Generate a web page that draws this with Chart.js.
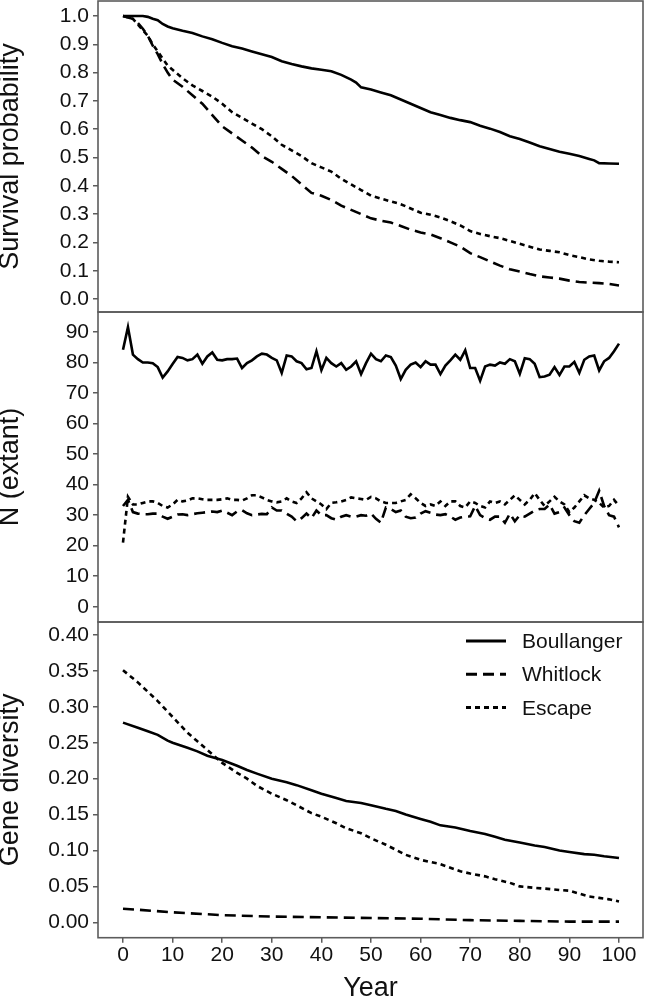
<!DOCTYPE html>
<html><head><meta charset="utf-8">
<script src="https://cdn.jsdelivr.net/npm/chart.js@4"></script>
<style>html,body{margin:0;padding:0;background:#fff}#wrap{position:relative;width:646px;height:999px}canvas{display:block}</style>
</head><body><div id="wrap"><canvas id="c" width="646" height="999"></canvas></div>
<script>
// ---------- DATA ----------
const seriesNames = ['Boullanger', 'Whitlock', 'Escape'];
const xTickValues = [0,10,20,30,40,50,60,70,80,90,100];
const survTickValues = [0,0.1,0.2,0.3,0.4,0.5,0.6,0.7,0.8,0.9,1.0];
const nTickValues = [0,10,20,30,40,50,60,70,80,90];
const geneTickValues = [0,0.05,0.10,0.15,0.20,0.25,0.30,0.35,0.40];

// Survival probability
const survYearsB = [0,2,4,5,6,7,8,9,10,12,14,16,18,20,22,24,26,28,30,32,34,36,38,40,42,44,46,47,48,50,52,54,56,58,60,62,64,66,68,70,72,74,76,78,80,82,84,86,88,90,92,94,95,96,98,100];
const survBoullanger = [1.0,1.0,1.0,0.997,0.99,0.985,0.972,0.963,0.957,0.948,0.94,0.928,0.918,0.905,0.893,0.885,0.875,0.865,0.855,0.84,0.83,0.822,0.815,0.81,0.805,0.792,0.775,0.765,0.748,0.74,0.73,0.72,0.705,0.69,0.675,0.66,0.65,0.64,0.632,0.625,0.612,0.602,0.59,0.575,0.565,0.553,0.54,0.53,0.52,0.513,0.505,0.495,0.49,0.48,0.479,0.478];
const survYearsWE = [0,1,2,3,4,5,6,7,8,9,10,12,14,16,18,20,22,24,26,28,30,32,34,36,38,40,42,44,46,48,50,52,54,56,58,60,62,64,66,68,70,72,74,76,78,80,82,84,86,88,90,92,94,96,98,100];
const survWhitlock = [1.0,0.995,0.99,0.975,0.955,0.93,0.895,0.865,0.83,0.8,0.775,0.75,0.72,0.69,0.65,0.61,0.585,0.56,0.535,0.505,0.485,0.46,0.435,0.405,0.375,0.365,0.35,0.33,0.315,0.3,0.285,0.277,0.27,0.258,0.245,0.235,0.228,0.215,0.2,0.185,0.162,0.148,0.133,0.118,0.105,0.097,0.088,0.08,0.076,0.072,0.065,0.06,0.058,0.056,0.053,0.048];
const survEscape = [1.0,0.995,0.99,0.97,0.95,0.93,0.9,0.875,0.85,0.825,0.81,0.78,0.755,0.735,0.715,0.69,0.66,0.64,0.62,0.6,0.575,0.545,0.525,0.505,0.48,0.465,0.45,0.425,0.405,0.385,0.365,0.355,0.345,0.335,0.32,0.305,0.298,0.288,0.275,0.26,0.24,0.23,0.222,0.215,0.205,0.195,0.185,0.175,0.17,0.165,0.155,0.148,0.14,0.135,0.132,0.13];

// N (extant), one value per year 0..100
const nYears = Array.from({length: 101}, (_, i) => i);
const nBoullanger = [84.2,91.6,82.6,81.1,80.0,80.0,79.8,78.5,75.1,77.1,
 79.5,81.8,81.5,80.7,81.1,82.6,79.6,82.0,83.3,80.9,
 80.7,81.1,81.1,81.3,78.2,79.8,80.7,82.0,82.9,82.6,
 81.5,80.7,76.6,82.3,82.0,80.4,79.8,77.8,78.2,83.7,
 77.5,81.5,79.8,78.7,79.8,77.6,78.7,80.4,76.2,79.8,
 82.9,81.1,80.4,82.3,81.8,79.0,74.6,77.6,79.3,80.0,
 78.5,80.4,79.3,79.3,76.2,79.0,80.7,82.6,80.9,84.0,
 78.2,78.2,74.0,78.7,79.3,79.0,80.0,79.6,81.1,80.4,
 76.3,81.4,81.1,79.6,75.2,75.4,76.0,78.5,75.9,78.7,
 78.7,80.2,76.6,80.9,82.0,82.3,77.4,80.4,81.5,83.7,86.2];
const nWhitlock = [33,35,31,30.5,30.3,30.3,30.5,30.5,29.5,28.8,
 29.5,30.2,30.3,30.0,30.3,30.6,30.8,31.0,31.2,31.0,
 31.5,30.8,30.0,31.2,31.6,30.6,30.0,30.2,30.4,30.3,
 32.5,31.5,31.5,30.5,29.5,28.0,29.0,30.5,29.0,31.5,
 30.0,30.0,29.0,28.5,29.5,30.0,29.5,29.5,30.0,29.8,
 30.5,28.8,27.5,32.5,32.0,31.0,31.5,29.5,29.0,29.2,
 30.5,31.3,30.8,30.2,30.0,30.3,29.5,28.5,29.2,29.5,
 29.6,33.0,30.0,29.0,28.5,29.5,29.5,27.5,30.5,28.0,
 30.0,29.5,30.5,31.5,32.0,32.0,33.5,30.5,31.0,32.5,
 30.0,28.0,27.5,30.0,32.0,34.0,38.0,33.0,30.0,29.5,26.0];
const nEscape = [21,36,33.5,33.5,34,34.5,34.5,34,33,32.5,
 33.5,35,34.5,34.8,35.5,35.5,35.2,35.0,35.0,35.0,
 35.2,35.5,35.0,35.0,34.8,35.5,36.5,36.5,35.8,35.0,
 34.5,34.2,34.5,35.5,34.5,34.0,35.5,37.5,35.5,34.5,
 33.5,32.0,34.0,34.2,34.5,35.0,35.8,35.5,35.3,35.0,
 36.0,35.5,34.5,34.0,34.0,34.0,34.5,35.0,36.8,35.5,
 34.0,33.0,33.5,33.0,34.5,33.0,34.5,34.5,33.0,32.5,
 34.5,34.0,33.0,32.5,34.5,34.0,34.5,33.5,35.0,36.5,
 35.0,33.5,35.0,37.2,35.0,33.0,34.5,36.0,34.5,33.5,
 31.0,32.5,34.5,36.5,35.5,35.0,34.0,32.5,33.0,35.0,33.0];

// Gene diversity
const geneYearsB = [0,3,5,7,9,10,13,15,17,20,23,25,27,30,33,35,38,40,43,45,48,50,53,55,57,60,62,64,67,70,73,75,77,80,83,85,88,90,93,95,97,100];
const geneBoullanger = [0.278,0.271,0.266,0.261,0.253,0.25,0.243,0.238,0.232,0.226,0.218,0.212,0.207,0.2,0.195,0.191,0.184,0.179,0.173,0.169,0.166,0.163,0.158,0.155,0.15,0.144,0.14,0.135,0.132,0.127,0.123,0.119,0.115,0.111,0.107,0.105,0.1,0.098,0.095,0.094,0.092,0.0895];
const geneYearsW = [0,10,20,30,40,50,60,70,80,90,100];
const geneWhitlock = [0.019,0.014,0.010,0.008,0.007,0.006,0.005,0.003,0.002,0.001,0.001];
const geneYearsE = [0,3,5,7,10,13,15,17,20,23,25,27,30,33,35,38,40,43,45,48,50,53,55,57,60,62,64,66,68,70,73,75,78,80,83,85,88,90,92,94,96,98,100];
const geneEscape = [0.351,0.334,0.321,0.308,0.286,0.264,0.252,0.24,0.222,0.208,0.2,0.19,0.179,0.17,0.163,0.152,0.147,0.138,0.131,0.124,0.117,0.108,0.101,0.094,0.087,0.084,0.081,0.076,0.071,0.068,0.064,0.06,0.055,0.05,0.048,0.047,0.045,0.044,0.04,0.036,0.034,0.032,0.029];

// ---------- STYLE ----------
const FONT = '"Liberation Sans", Arial, sans-serif';
const FRAME = '#5c5c5c';
const dashes = { Boullanger: [], Whitlock: [11, 6], Escape: [5, 4] };
const pts = (xs, ys) => xs.map((x, i) => ({ x: x, y: ys[i] }));

function lineDs(name, xs, ys, axis, inLegend) {
  return {
    label: name, data: pts(xs, ys), yAxisID: axis, xAxisID: 'x',
    borderColor: '#000', borderWidth: 2.6, borderDash: dashes[name],
    pointRadius: 0, tension: 0, fill: false, _legend: inLegend
  };
}

const datasets = [
  lineDs('Boullanger', survYearsB, survBoullanger, 'ySurv'),
  lineDs('Whitlock', survYearsWE, survWhitlock, 'ySurv'),
  lineDs('Escape', survYearsWE, survEscape, 'ySurv'),
  lineDs('Boullanger', nYears, nBoullanger, 'yN'),
  lineDs('Whitlock', nYears, nWhitlock, 'yN'),
  lineDs('Escape', nYears, nEscape, 'yN'),
  lineDs('Boullanger', geneYearsB, geneBoullanger, 'yGene', true),
  lineDs('Whitlock', geneYearsW, geneWhitlock, 'yGene', true),
  lineDs('Escape', geneYearsE, geneEscape, 'yGene', true)
];

function fixTicks(values) { return s => { s.ticks = values.map(v => ({ value: v })); }; }
function noPad(size) {
  return s => {
    if (size.w !== undefined) s.width = size.w;
    if (size.h !== undefined) s.height = size.h;
    s.paddingTop = 0; s.paddingBottom = 0; s.paddingLeft = 0; s.paddingRight = 0;
  };
}
function yAxis(ticks, min, max, weight, title, decimals) {
  return {
    type: 'linear', position: 'left', stack: 'panels', stackWeight: weight,
    min: min, max: max,
    afterBuildTicks: fixTicks(ticks),
    afterFit: noPad({ w: 98 }),
    ticks: { color: '#111', font: { family: FONT, size: 21 }, padding: 4, autoSkip: false,
      callback: v => Number(v).toFixed(decimals) },
    grid: { drawOnChartArea: false, drawTicks: true, tickLength: 5, color: FRAME, lineWidth: 1.5 },
    border: { display: false },
    title: { display: true, text: title, color: '#111', font: { family: FONT, size: 27, lineHeight: 0.8 }, padding: 0 }
  };
}

const framePlugin = {
  id: 'frames',
  afterDatasetsDraw(chart) {
    const ctx = chart.ctx, a = chart.chartArea;
    ctx.save();
    ctx.strokeStyle = FRAME; ctx.lineWidth = 1.6;
    ['ySurv', 'yN', 'yGene'].forEach(id => {
      const s = chart.scales[id];
      ctx.strokeRect(a.left, s.top, a.right - a.left, s.bottom - s.top);
    });
    ctx.restore();
  }
};

const legendPlugin = {
  id: 'panelLegend',
  afterDatasetsDraw(chart) {
    const ctx = chart.ctx, s = chart.scales.yGene;
    const items = chart.data.datasets.filter(d => d._legend);
    ctx.save();
    items.forEach((d, i) => {
      const y = s.top + 19 + i * 33.3;
      ctx.strokeStyle = d.borderColor; ctx.lineWidth = 3;
      ctx.setLineDash(d.borderDash);
      ctx.beginPath(); ctx.moveTo(466, y); ctx.lineTo(506, y); ctx.stroke();
      ctx.setLineDash([]);
      ctx.fillStyle = '#111'; ctx.font = '21px ' + FONT;
      ctx.textBaseline = 'alphabetic'; ctx.textAlign = 'left';
      ctx.fillText(d.label, 522, y + 7);
    });
    ctx.restore();
  }
};

new Chart(document.getElementById('c'), {
  type: 'line',
  data: { datasets: datasets },
  options: {
    responsive: false, animation: false, devicePixelRatio: 1,
    layout: { padding: { top: 1, right: 3, left: 0, bottom: 0 } },
    plugins: { legend: { display: false }, tooltip: { enabled: false } },
    scales: {
      x: {
        type: 'linear', position: 'bottom', min: -5.04, max: 104.84,
        afterBuildTicks: fixTicks(xTickValues),
        afterFit: noPad({ h: 61.3 }),
        ticks: { color: '#111', font: { family: FONT, size: 21 }, padding: 0, maxRotation: 0, autoSkip: false },
        grid: { drawOnChartArea: false, drawTicks: true, tickLength: 5, color: FRAME, lineWidth: 1.5 },
        border: { display: false },
        title: { display: true, text: 'Year', color: '#111', font: { family: FONT, size: 27, lineHeight: 0.75 }, padding: 0 }
      },
      yGene: yAxis(geneTickValues, -0.0214, 0.4181, 315.7, 'Gene diversity', 2),
      yN: yAxis(nTickValues, -5.01, 96.55, 310, 'N (extant)', 0),
      ySurv: yAxis(survTickValues, -0.0459, 1.053, 311, 'Survival probability', 1)
    }
  },
  plugins: [framePlugin, legendPlugin]
});
</script></body></html>
